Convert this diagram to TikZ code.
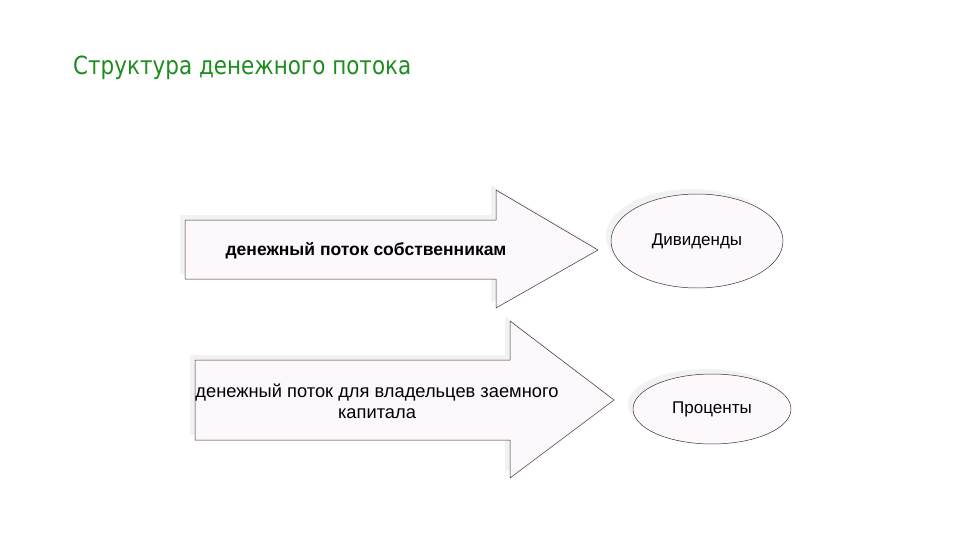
\documentclass[tikz,border=0pt]{standalone}
\usepackage{fontspec}
\setmainfont{DejaVu Sans}
\newfontfamily\bodyf{Liberation Sans}
\usetikzlibrary{shapes.geometric}
\begin{document}
\begin{tikzpicture}[x=1pt,y=-1pt,
  shp/.style={draw=black!80,line width=0.5pt,fill=arrfill},
  shad/.style={fill=black!5,draw=none},
  lbl/.style={font=\bodyf\fontsize{18.3}{21}\selectfont,align=center,inner sep=0}]
\definecolor{arrfill}{HTML}{FCF8FC}
\definecolor{titlegreen}{HTML}{1E8C1E}
\useasboundingbox (0,0) rectangle (960,540);
\node[anchor=west,inner sep=0,text=titlegreen,font=\fontsize{25}{28}\selectfont\addfontfeature{FakeStretch=0.86}] (title) at (73,68) {Структура денежного потока};
% shadows
\fill[shad] (180,215) -- (491,215) -- (491,185) -- (593,245) -- (491,303) -- (491,274) -- (180,274) -- cycle;
\fill[shad] (190,355) -- (505,355) -- (505,316) -- (609,395) -- (505,473) -- (505,435) -- (190,435) -- cycle;
\fill[shad] (692,236) ellipse [x radius=86,y radius=47];
\fill[shad] (707,404) ellipse [x radius=79,y radius=35];
% arrows
\draw[shp] (185,220) -- (496,220) -- (496,190) -- (598,250) -- (496,308) -- (496,279) -- (185,279) -- cycle;
\draw[shp] (195,360) -- (510,360) -- (510,321) -- (614,400) -- (510,478) -- (510,440) -- (195,440) -- cycle;
\node[lbl,font=\bodyf\bfseries\fontsize{17.5}{21}\selectfont] (a1) at (366,251) {денежный поток собственникам};
\node[lbl] (a2) at (377,401) {денежный поток для владельцев заемного\\капитала};
\node[shp,ellipse,minimum width=172,minimum height=94,inner sep=0,font=\bodyf\fontsize{17}{20}\selectfont] (e1) at (697,241) {Дивиденды};
\node[shp,ellipse,minimum width=158,minimum height=70,inner sep=0,font=\bodyf\fontsize{17}{20}\selectfont] (e2) at (712,409) {Проценты};
\end{tikzpicture}
\end{document}
